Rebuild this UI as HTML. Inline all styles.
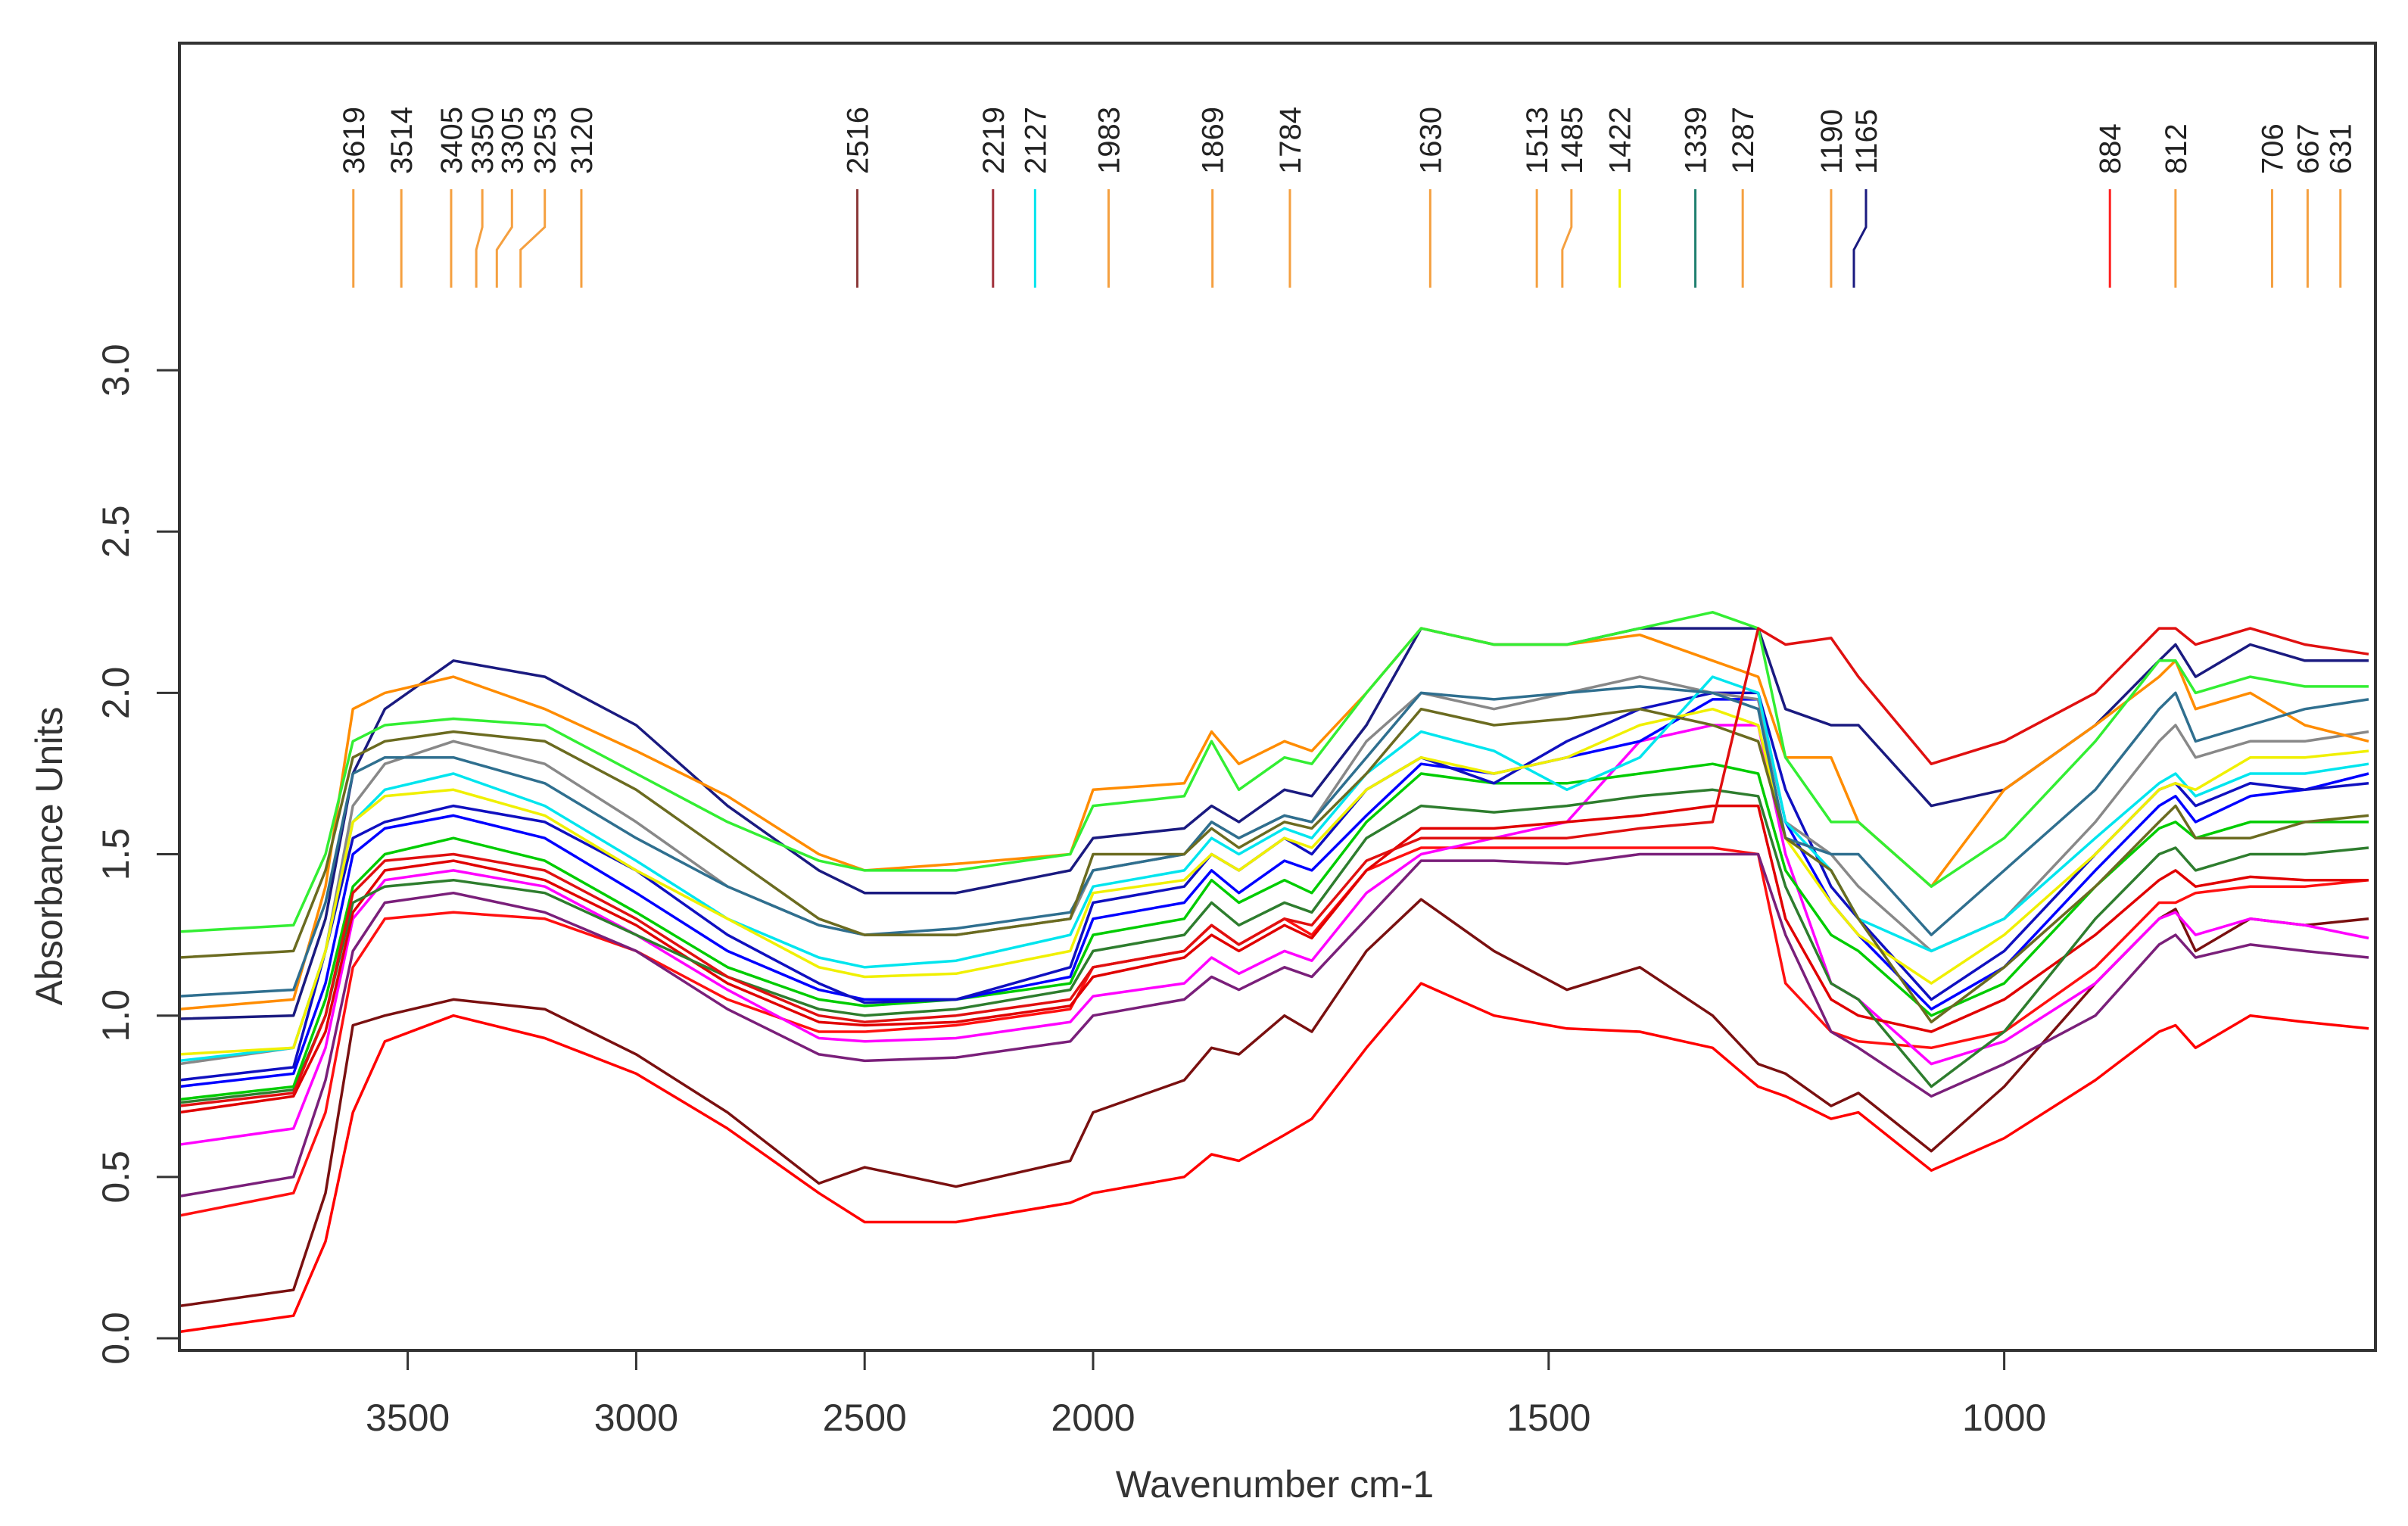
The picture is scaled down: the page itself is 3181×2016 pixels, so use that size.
<!DOCTYPE html>
<html><head><meta charset="utf-8"><style>
html,body{margin:0;padding:0;background:#fff;}
svg{display:block;font-family:"Liberation Sans",sans-serif;}
</style></head><body>
<svg id="chart" width="3181" height="2016" viewBox="0 0 3181 2016" xmlns="http://www.w3.org/2000/svg">
<rect x="0" y="0" width="3181" height="2016" fill="#fff"/>
<g id="series"></g>
<g id="peaks"></g>
<rect x="237" y="57" width="2901" height="1727" fill="none" stroke="#333" stroke-width="4"/>
<g id="axes"></g>
<text x="1684" y="1978" font-size="50" text-anchor="middle" fill="#333">Wavenumber cm-1</text>
<text x="0" y="0" font-size="50" text-anchor="middle" fill="#333" transform="translate(82,1131) rotate(-90)">Absorbance Units</text>
</svg>
<script>
const wavenumbers = [4000,3750,3680,3620,3550,3400,3200,3000,2800,2600,2500,2300,2050,2000,1900,1870,1840,1790,1760,1700,1640,1560,1480,1400,1320,1270,1240,1190,1160,1080,1000,900,830,812,790,730,670,600];
const seriesColors = ["#ff0000","#7a1010","#ff1010","#7a1f7a","#ff00ff","#e00000","#2e7d2e","#00cc00","#0000ff","#1010c0","#888888","#00e5ee","#f0f000","#1a1a80","#ff8c00","#2f6f8f","#6b6b20","#33ee33","#e01010"];
const s1 = [0.02,0.07,0.3,0.7,0.92,1.0,0.93,0.82,0.65,0.45,0.36,0.36,0.42,0.45,0.5,0.57,0.55,0.63,0.68,0.9,1.1,1.0,0.96,0.95,0.9,0.78,0.75,0.68,0.7,0.52,0.62,0.8,0.95,0.97,0.9,1.0,0.98,0.96];
const s2 = [0.1,0.15,0.45,0.97,1.0,1.05,1.02,0.88,0.7,0.48,0.53,0.47,0.55,0.7,0.8,0.9,0.88,1.0,0.95,1.2,1.36,1.2,1.08,1.15,1.0,0.85,0.82,0.72,0.76,0.58,0.78,1.1,1.3,1.33,1.2,1.3,1.28,1.3];
const s3 = [0.38,0.45,0.7,1.15,1.3,1.32,1.3,1.2,1.05,0.95,0.95,0.97,1.02,1.15,1.2,1.28,1.22,1.3,1.25,1.45,1.52,1.52,1.52,1.52,1.52,1.5,1.1,0.95,0.92,0.9,0.95,1.15,1.35,1.35,1.38,1.4,1.4,1.42];
const s4 = [0.44,0.5,0.8,1.2,1.35,1.38,1.32,1.2,1.02,0.88,0.86,0.87,0.92,1.0,1.05,1.12,1.08,1.15,1.12,1.3,1.48,1.48,1.47,1.5,1.5,1.5,1.25,0.95,0.9,0.75,0.85,1.0,1.22,1.25,1.18,1.22,1.2,1.18];
const s5 = [0.6,0.65,0.9,1.3,1.42,1.45,1.4,1.25,1.08,0.93,0.92,0.93,0.98,1.06,1.1,1.18,1.13,1.2,1.17,1.38,1.5,1.55,1.6,1.85,1.9,1.9,1.5,1.1,1.05,0.85,0.92,1.1,1.3,1.32,1.25,1.3,1.28,1.24];
const s6 = [0.7,0.75,0.95,1.32,1.45,1.48,1.42,1.28,1.1,0.98,0.97,0.98,1.03,1.12,1.18,1.25,1.2,1.28,1.24,1.45,1.58,1.58,1.6,1.62,1.65,1.65,1.3,1.05,1.0,0.95,1.05,1.25,1.42,1.45,1.4,1.43,1.42,1.42];
const s7 = [0.73,0.77,1.0,1.35,1.4,1.42,1.38,1.25,1.12,1.02,1.0,1.02,1.08,1.2,1.25,1.35,1.28,1.35,1.32,1.55,1.65,1.63,1.65,1.68,1.7,1.68,1.4,1.1,1.05,0.78,0.95,1.3,1.5,1.52,1.45,1.5,1.5,1.52];
const s8 = [0.74,0.78,1.05,1.4,1.5,1.55,1.48,1.32,1.15,1.05,1.03,1.05,1.1,1.25,1.3,1.42,1.35,1.42,1.38,1.6,1.75,1.72,1.72,1.75,1.78,1.75,1.45,1.25,1.2,1.0,1.1,1.4,1.58,1.6,1.55,1.6,1.6,1.6];
const s9 = [0.78,0.82,1.1,1.5,1.58,1.62,1.55,1.38,1.2,1.08,1.05,1.05,1.12,1.3,1.35,1.45,1.38,1.48,1.45,1.62,1.78,1.75,1.8,1.85,1.98,1.98,1.6,1.35,1.25,1.02,1.15,1.45,1.65,1.68,1.6,1.68,1.7,1.75];
const s10 = [0.8,0.84,1.2,1.55,1.6,1.65,1.6,1.45,1.25,1.1,1.04,1.05,1.15,1.35,1.4,1.5,1.45,1.55,1.5,1.7,1.8,1.72,1.85,1.95,2.0,2.0,1.7,1.4,1.3,1.05,1.2,1.5,1.7,1.72,1.65,1.72,1.7,1.72];
const s11 = [0.85,0.9,1.2,1.65,1.78,1.85,1.78,1.6,1.4,1.28,1.25,1.25,1.3,1.45,1.5,1.6,1.55,1.62,1.6,1.85,2.0,1.95,2.0,2.05,2.0,1.98,1.6,1.5,1.4,1.2,1.3,1.6,1.85,1.9,1.8,1.85,1.85,1.88];
const s12 = [0.86,0.9,1.2,1.6,1.7,1.75,1.65,1.48,1.3,1.18,1.15,1.17,1.25,1.4,1.45,1.55,1.5,1.58,1.55,1.75,1.88,1.82,1.7,1.8,2.05,2.0,1.6,1.45,1.3,1.2,1.3,1.55,1.72,1.75,1.68,1.75,1.75,1.78];
const s13 = [0.88,0.9,1.2,1.6,1.68,1.7,1.62,1.45,1.3,1.15,1.12,1.13,1.2,1.38,1.42,1.5,1.45,1.55,1.52,1.7,1.8,1.75,1.8,1.9,1.95,1.9,1.55,1.35,1.25,1.1,1.25,1.5,1.7,1.72,1.7,1.8,1.8,1.82];
const s14 = [0.99,1.0,1.3,1.75,1.95,2.1,2.05,1.9,1.65,1.45,1.38,1.38,1.45,1.55,1.58,1.65,1.6,1.7,1.68,1.9,2.2,2.15,2.15,2.2,2.2,2.2,1.95,1.9,1.9,1.65,1.7,1.9,2.1,2.15,2.05,2.15,2.1,2.1];
const s15 = [1.02,1.05,1.4,1.95,2.0,2.05,1.95,1.82,1.68,1.5,1.45,1.47,1.5,1.7,1.72,1.88,1.78,1.85,1.82,2.0,2.2,2.15,2.15,2.18,2.1,2.05,1.8,1.8,1.6,1.4,1.7,1.9,2.05,2.1,1.95,2.0,1.9,1.85];
const s16 = [1.06,1.08,1.35,1.75,1.8,1.8,1.72,1.55,1.4,1.28,1.25,1.27,1.32,1.45,1.5,1.6,1.55,1.62,1.6,1.8,2.0,1.98,2.0,2.02,2.0,1.95,1.55,1.5,1.5,1.25,1.45,1.7,1.95,2.0,1.85,1.9,1.95,1.98];
const s17 = [1.18,1.2,1.45,1.8,1.85,1.88,1.85,1.7,1.5,1.3,1.25,1.25,1.3,1.5,1.5,1.58,1.52,1.6,1.58,1.75,1.95,1.9,1.92,1.95,1.9,1.85,1.55,1.45,1.3,0.98,1.15,1.4,1.6,1.65,1.55,1.55,1.6,1.62];
const s18 = [1.26,1.28,1.5,1.85,1.9,1.92,1.9,1.75,1.6,1.48,1.45,1.45,1.5,1.65,1.68,1.85,1.7,1.8,1.78,2.0,2.2,2.15,2.15,2.2,2.25,2.2,1.8,1.6,1.6,1.4,1.55,1.85,2.1,2.1,2.0,2.05,2.02,2.02];
const s19 = [0.72,0.76,1.0,1.38,1.48,1.5,1.45,1.3,1.12,1.0,0.98,1.0,1.05,1.15,1.2,1.28,1.22,1.3,1.28,1.48,1.55,1.55,1.55,1.58,1.6,2.2,2.15,2.17,2.05,1.78,1.85,2.0,2.2,2.2,2.15,2.2,2.15,2.12];
const allSeries = [s1,s2,s3,s4,s5,s6,s7,s8,s9,s10,s11,s12,s13,s14,s15,s16,s17,s18,s19];
const peakWavenumbers = [3619,3514,3405,3350,3305,3253,3120,2516,2219,2127,1983,1869,1784,1630,1513,1485,1422,1339,1287,1190,1165,884,812,706,667,631];
const peakLabels = ["3619","3514","3405","3350","3305","3253","3120","2516","2219","2127","1983","1869","1784","1630","1513","1485","1422","1339","1287","1190","1165","884","812","706","667","631"];
const peakColors = ["#f5a040","#f5a040","#f5a040","#f5a040","#f5a040","#f5a040","#f5a040","#8b3a3a","#a0303a","#00e5ee","#f5a040","#f5a040","#f5a040","#f5a040","#f5a040","#f5a040","#f0f000","#208070","#f5a040","#f5a040","#1a1a80","#ff2020","#f5a040","#f5a040","#f5a040","#f5a040"];
const xTicks = [3500,3000,2500,2000,1500,1000];
const xTickLabels = ["3500","3000","2500","2000","1500","1000"];
const yTicks = [0,0.5,1,1.5,2,2.5,3];
const yTickLabels = ["0.0","0.5","1.0","1.5","2.0","2.5","3.0"];

const NS = "http://www.w3.org/2000/svg";
function xScale(w){ return w >= 2000 ? 1444 - (w-2000)*0.6036 : 1444 + (2000-w)*1.2036; }
function yScale(v){ return 1768 - v*426.3; }

const sg = document.getElementById('series');
allSeries.forEach((vals,i)=>{
  const p = document.createElementNS(NS,'polyline');
  p.setAttribute('points', vals.map((v,j)=>xScale(wavenumbers[j]).toFixed(1)+','+yScale(v).toFixed(1)).join(' '));
  p.setAttribute('fill','none');
  p.setAttribute('stroke',seriesColors[i]);
  p.setAttribute('stroke-width','3.5');
  p.setAttribute('stroke-linejoin','round');
  
  
  sg.appendChild(p);
});

// peak markers: labels spread to avoid overlap in crowded groups
const pg = document.getElementById('peaks');
const labelShift = {3350:8,3305:20,3253:32,1485:12,1165:16};
peakWavenumbers.forEach((w,i)=>{
  const xt = xScale(w);
  const xl = xt + (labelShift[w]||0);
  const line = document.createElementNS(NS,'polyline');
  line.setAttribute('points', xl+',250 '+xl+',300 '+xt+',330 '+xt+',380');
  line.setAttribute('fill','none');
  line.setAttribute('stroke',peakColors[i]);
  line.setAttribute('stroke-width','3');
  
  
  pg.appendChild(line);
  const t = document.createElementNS(NS,'text');
  t.setAttribute('transform','translate('+(xl+14)+',230) rotate(-90)');
  t.setAttribute('font-size','40');
  t.setAttribute('fill','#222');
  t.textContent = peakLabels[i];
  
  
  pg.appendChild(t);
});

const ag = document.getElementById('axes');
xTicks.forEach((w,i)=>{
  const x = xScale(w);
  const l = document.createElementNS(NS,'line');
  l.setAttribute('x1',x); l.setAttribute('x2',x); l.setAttribute('y1',1784); l.setAttribute('y2',1810);
  l.setAttribute('stroke','#333'); l.setAttribute('stroke-width','3');
  
  
  ag.appendChild(l);
  const t = document.createElementNS(NS,'text');
  t.setAttribute('x',x); t.setAttribute('y',1890);
  t.setAttribute('font-size','50'); t.setAttribute('text-anchor','middle'); t.setAttribute('fill','#333');
  t.textContent = xTickLabels[i];
  
  
  ag.appendChild(t);
});
yTicks.forEach((v,i)=>{
  const y = yScale(v);
  const l = document.createElementNS(NS,'line');
  l.setAttribute('x1',207); l.setAttribute('x2',237); l.setAttribute('y1',y); l.setAttribute('y2',y);
  l.setAttribute('stroke','#333'); l.setAttribute('stroke-width','3');
  
  
  ag.appendChild(l);
  const t = document.createElementNS(NS,'text');
  t.setAttribute('transform','translate(170,'+y+') rotate(-90)');
  t.setAttribute('font-size','50'); t.setAttribute('text-anchor','middle'); t.setAttribute('fill','#333');
  t.textContent = yTickLabels[i];
  
  
  ag.appendChild(t);
});
</script>
</body></html>
